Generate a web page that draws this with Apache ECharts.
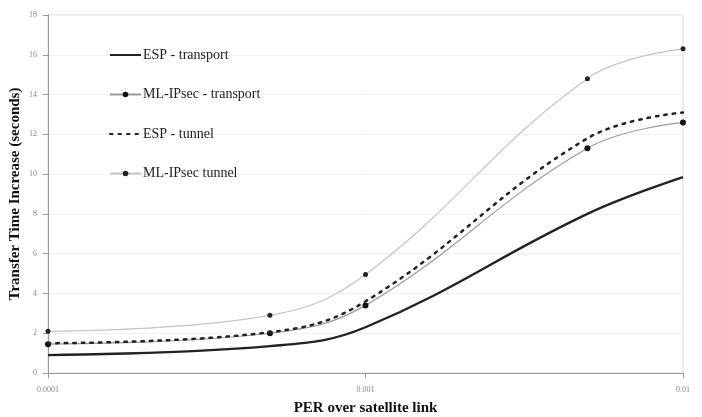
<!DOCTYPE html>
<html>
<head>
<meta charset="utf-8">
<script src="https://cdn.jsdelivr.net/npm/echarts@6/dist/echarts.min.js"></script>
<style>
html, body { margin: 0; padding: 0; background: #fff; }
#chart { width: 702px; height: 417px; }
</style>
</head>
<body>
<div id="chart"></div>
<script>
// PER 取值（对数轴）
var perValues = [0.0001, 0.0005, 0.001, 0.005, 0.01];
var espTransport = [0.9, 1.35, 2.3, 8.0, 9.85];
var mlTransport = [1.45, 2.0, 3.4, 11.3, 12.6];
var espTunnel = [1.5, 2.05, 3.6, 11.8, 13.1];
var mlTunnel = [2.1, 2.9, 4.95, 14.8, 16.3];
var yTicks = [0, 2, 4, 6, 8, 10, 12, 14, 16, 18];

function pairs(arr) {
	return perValues.map(function(x, i) { return [x, arr[i]]; });
}

var myChart = echarts.init(document.getElementById('chart'));
var serif = 'Liberation Serif';

var option = {
	backgroundColor: '#ffffff',
	animation: false,
	textStyle: { fontFamily: serif },
	grid: {
		left: 48, right: 19, top: 15, bottom: 44,
		outerBoundsMode: 'none',
		show: true, borderColor: '#d8d8d8', borderWidth: 1
	},
	legend: {
		orient: 'vertical',
		left: 104,
		top: 43,
		itemGap: 25.5,
		itemWidth: 31,
		itemHeight: 7,
		textStyle: { fontFamily: serif, fontSize: 14, color: '#222', padding: [0, 0, 0, -3] },
		data: ['ESP - transport', 'ML-IPsec - transport', 'ESP - tunnel', 'ML-IPsec tunnel']
	},
	xAxis: {
		type: 'log',
		logBase: 10,
		min: 0.0001,
		max: 0.01,
		name: 'PER over satellite link',
		nameLocation: 'middle',
		nameGap: 28,
		nameMoveOverlap: false,
		nameTextStyle: { fontFamily: serif, fontWeight: 'bold', fontSize: 15, color: '#111' },
		axisLine: { lineStyle: { color: '#999' } },
		axisTick: { show: true, lineStyle: { color: '#999' } },
		minorTick: { show: false },
		splitLine: { show: false },
		axisLabel: {
			fontSize: 8, color: '#888', margin: 13,
			formatter: function(v) {
				return String(parseFloat(v.toPrecision(6)));
			}
		}
	},
	yAxis: {
		type: 'value',
		min: 0,
		max: 18,
		interval: 2,
		name: 'Transfer Time Increase (seconds)',
		nameLocation: 'middle',
		nameGap: 25,
		nameMoveOverlap: false,
		nameTextStyle: { fontFamily: serif, fontWeight: 'bold', fontSize: 15, color: '#111' },
		axisLine: { show: true, lineStyle: { color: '#999' } },
		axisTick: { show: true, lineStyle: { color: '#999' } },
		splitLine: { show: true, lineStyle: { color: '#f0f0f0' } },
		axisLabel: {
			fontSize: 8, color: '#888', margin: 11,
			formatter: function(v) { return yTicks.indexOf(v) >= 0 ? String(v) : ''; }
		}
	},
	series: [
		{
			name: 'ESP - transport',
			type: 'line',
			smooth: 0.4,
			data: pairs(espTransport),
			symbol: 'circle',
			showSymbol: false,
			lineStyle: { color: '#222', width: 2.4 },
			itemStyle: { color: 'rgba(0,0,0,0)' },
			z: 4
		},
		{
			name: 'ML-IPsec - transport',
			type: 'line',
			smooth: 0.4,
			data: pairs(mlTransport),
			symbol: 'circle',
			symbolSize: 6,
			lineStyle: { color: '#9a9a9a', width: 1.2 },
			itemStyle: { color: '#111' },
			z: 3
		},
		{
			name: 'ESP - tunnel',
			type: 'line',
			smooth: 0.4,
			data: pairs(espTunnel),
			symbol: 'circle',
			showSymbol: false,
			lineStyle: { color: '#222', width: 2.5, type: [2.5, 6], cap: 'round' },
			itemStyle: { color: 'rgba(0,0,0,0)' },
			z: 5
		},
		{
			name: 'ML-IPsec tunnel',
			type: 'line',
			smooth: 0.4,
			data: pairs(mlTunnel),
			symbol: 'circle',
			symbolSize: 5,
			lineStyle: { color: '#c4c4c4', width: 1.2 },
			itemStyle: { color: '#222' },
			z: 2
		}
	]
};
myChart.setOption(option);
window.addEventListener('resize', function() {
	myChart.resize();
});
</script>
</body>
</html>
